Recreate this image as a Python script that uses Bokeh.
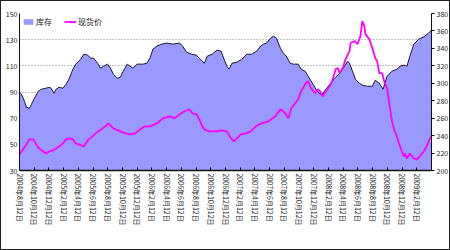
from bokeh.plotting import figure
from bokeh.models import Range1d, LinearAxis, FixedTicker, Legend, LegendItem
from bokeh.embed import file_html
from bokeh.resources import INLINE

FONT = "Noto Sans CJK SC"

tick_labels = ["2004年8月12日", "2004年10月12日", "2004年12月12日", "2005年2月12日",
               "2005年4月12日", "2005年6月12日", "2005年8月12日", "2005年10月12日",
               "2005年12月12日", "2006年2月12日", "2006年4月12日", "2006年6月12日",
               "2006年8月12日", "2006年10月12日", "2006年12月12日", "2007年2月12日",
               "2007年4月12日", "2007年6月12日", "2007年8月12日", "2007年10月12日",
               "2007年12月12日", "2008年2月12日", "2008年4月12日", "2008年6月12日",
               "2008年8月12日", "2008年10月12日", "2008年12月12日", "2009年2月12日"]

stock_x = [0.00, 0.13, 0.34, 0.47, 0.67, 0.81, 1.01, 1.28, 1.48, 1.81, 2.01, 2.15, 2.35, 2.48,
           2.69, 2.95, 3.16, 3.36, 3.63, 3.83, 4.16, 4.37, 4.63, 4.84, 5.04, 5.31, 5.51, 5.71,
           5.98, 6.18, 6.38, 6.65, 6.85, 7.05, 7.32, 7.52, 7.72, 7.99, 8.19, 8.40, 8.66, 8.87,
           9.07, 9.34, 9.67, 10.01, 10.41, 10.88, 11.08, 11.35, 11.69, 12.02, 12.36, 12.56,
           12.76, 13.10, 13.43, 13.70, 13.90, 14.10, 14.24, 14.44, 14.78, 15.11, 15.45, 15.78,
           16.12, 16.39, 16.59, 16.79, 17.06, 17.26, 17.46, 17.73, 17.93, 18.13, 18.40, 18.60,
           18.94, 19.14, 19.41, 19.74, 19.95, 20.15, 20.42, 20.62, 20.82, 21.09, 21.42, 21.76,
           22.10, 22.30, 22.43, 22.63, 22.83, 23.10, 23.30, 23.64, 23.98, 24.18, 24.45, 24.71,
           24.98, 25.32, 25.65, 25.86, 26.12, 26.33, 26.53, 26.80, 27.13, 27.47, 27.80, 28.00]
stock_v = [90.0, 88.3, 82.9, 78.3, 77.5, 80.6, 85.2, 90.6, 92.1, 92.9, 93.6, 92.9, 89.0, 92.1,
           93.6, 92.9, 95.9, 99.8, 107.4, 111.3, 115.1, 118.9, 118.2, 115.9, 115.9, 112.0, 108.2, 109.7,
           111.3, 108.2, 103.6, 100.5, 101.3, 105.9, 111.3, 109.7, 108.2, 111.3, 111.3, 111.3, 112.0, 116.0,
           122.8, 125.1, 126.6, 127.4, 126.6, 127.4, 125.1, 120.5, 118.9, 118.2, 114.3, 112.0,
           117.4, 118.9, 122.0, 121.2, 115.1, 109.7, 107.4, 112.0, 112.8, 115.1, 118.9, 118.9,
           121.2, 125.1, 126.6, 127.4, 131.2, 132.7, 131.2, 123.5, 119.7, 117.4, 112.0, 111.3,
           111.3, 107.4, 105.9, 99.8, 95.9, 92.1, 88.3, 89.0, 92.1, 95.9, 100.5, 104.4,
           109.7, 113.6, 112.0, 105.9, 99.8, 96.7, 95.2, 94.4, 94.4, 99.0, 96.7, 92.1,
           102.1, 105.9, 107.4, 109.7, 110.5, 109.7, 117.4, 126.6, 130.4, 132.0, 135.0, 137.3]

price_x = [0.00, 0.13, 0.47, 0.67, 0.94, 1.14, 1.34, 1.61, 1.81, 2.01, 2.28, 2.48, 2.69, 2.95,
           3.16, 3.36, 3.63, 3.83, 4.03, 4.37, 4.50, 4.70, 4.97, 5.17, 5.37, 5.64, 5.84, 6.04,
           6.38, 6.85, 7.19, 7.52, 7.86, 8.19, 8.53, 8.87, 9.34, 9.74, 10.21, 10.54, 10.88, 11.22,
           11.55, 11.75, 12.02, 12.22, 12.42, 12.56, 12.89, 13.36, 13.77, 14.10, 14.37, 14.57,
           14.78, 15.04, 15.38, 15.72, 16.05, 16.45, 16.92, 17.39, 17.73, 18.07, 18.27, 18.47,
           18.74, 18.94, 19.14, 19.41, 19.61, 19.81, 20.08, 20.28, 20.42, 20.62, 20.82, 21.09,
           21.29, 21.49, 21.63, 21.76, 21.96, 22.16, 22.43, 22.50, 22.77, 22.97, 23.17, 23.30,
           23.44, 23.51, 23.77, 23.98, 24.18, 24.31, 24.45, 24.65, 24.78, 24.98, 25.18, 25.32,
           25.45, 25.65, 25.79, 25.86, 25.99, 26.12, 26.19, 26.33, 26.53, 26.80, 27.00, 27.20,
           27.47, 27.67, 27.87, 28.00]
price_v = [218.4, 221.8, 229.9, 235.7, 235.7, 229.9, 225.3, 221.8, 219.5, 221.8, 223.0, 225.3, 227.6, 231.0,
           235.7, 236.8, 235.7, 231.0, 229.9, 227.6, 231.0, 235.7, 239.1, 242.6, 244.9, 248.3, 250.6, 254.1,
           248.3, 244.9, 242.6, 241.4, 242.6, 247.2, 250.6, 250.6, 254.1, 259.8, 262.1, 259.8, 264.4, 267.9,
           270.2, 265.6, 264.4, 258.7, 250.6, 247.2, 244.9, 244.9, 246.0, 244.9, 236.8, 233.4,
           236.8, 241.4, 242.6, 244.9, 250.6, 254.1, 256.4, 262.1, 270.2, 265.6, 259.8, 271.3,
           277.1, 281.7, 290.9, 298.9, 302.4, 294.3, 288.6, 293.2, 290.9, 285.1, 290.9, 296.6,
           304.7, 316.2, 317.3, 311.6, 317.3, 327.7, 336.9, 346.1, 348.4, 344.9, 354.1, 371.4,
           365.6, 356.4, 350.7, 340.3, 328.8, 325.4, 311.6, 311.6, 302.4, 294.3, 271.3, 256.4,
           247.2, 239.1, 231.0, 227.6, 221.8, 216.1, 219.5, 213.8, 219.5, 213.8, 212.6, 216.1,
           221.8, 227.6, 235.7, 239.1]

left_ticks = [30, 50, 70, 90, 110, 130, 150]
right_ticks = [200, 220, 240, 260, 280, 300, 320, 340, 360, 380]
series_names = ["库存", "现货价"]

p = figure(width=450, height=250, output_backend="svg", toolbar_location=None,
           x_range=Range1d(0, len(tick_labels)), y_range=Range1d(left_ticks[0], left_ticks[-1]),
           min_border_left=18, min_border_right=15, min_border_top=12, min_border_bottom=81)
p.extra_y_ranges = {"right": Range1d(right_ticks[0], right_ticks[-1])}
p.background_fill_color = "white"
p.border_fill_color = "white"
p.outline_line_color = None
p.styles = {"border": "1px solid #222"}

area = p.varea(x=stock_x, y1=left_ticks[0], y2=stock_v, fill_color="#9999FF", fill_alpha=1.0)
p.line(x=stock_x, y=stock_v, line_color="#1a1a33", line_width=1)
ln = p.line(x=price_x, y=price_v, line_color="#FF00FF", line_width=1.8, y_range_name="right")

# axes
xa = p.xaxis[0]
xa.ticker = FixedTicker(ticks=list(range(len(tick_labels))))
xa.major_label_overrides = {i: t for i, t in enumerate(tick_labels)}
xa.major_label_orientation = "vertical"
xa.major_label_text_font = FONT
xa.major_label_text_font_size = "7px"
xa.major_label_text_color = "#222"
xa.major_label_standoff = 3
xa.major_tick_in = 3
xa.major_tick_out = 0
xa.minor_tick_line_color = None
xa.axis_line_color = "#111"
xa.axis_line_width = 1.5

ya = p.yaxis[0]
ya.ticker = FixedTicker(ticks=left_ticks)
ya.major_label_text_font = FONT
ya.major_label_text_font_size = "7px"
ya.major_label_text_color = "#222"
ya.major_label_standoff = 2
ya.major_tick_in = 0
ya.major_tick_out = 0
ya.minor_tick_line_color = None
ya.axis_line_color = "#111"
ya.axis_line_width = 1

ra = LinearAxis(y_range_name="right", ticker=FixedTicker(ticks=right_ticks))
ra.major_label_text_font = FONT
ra.major_label_text_font_size = "7px"
ra.major_label_text_color = "#222"
ra.major_label_standoff = 2
ra.major_tick_in = 0
ra.major_tick_out = 3
ra.minor_tick_line_color = None
ra.axis_line_color = "#111"
ra.axis_line_width = 1
p.add_layout(ra, "right")

p.xgrid.grid_line_color = None
p.ygrid.ticker = FixedTicker(ticks=left_ticks)
p.ygrid.grid_line_color = "#888888"
p.ygrid.grid_line_dash = "1 2"
p.ygrid.grid_line_width = 1

legend = Legend(items=[LegendItem(label=series_names[0], renderers=[area]),
                       LegendItem(label=series_names[1], renderers=[ln])],
                location="top_left", orientation="horizontal")
legend.label_text_font = FONT
legend.label_text_font_size = "8px"
legend.label_text_color = "#222"
legend.glyph_width = 12
legend.glyph_height = 7
legend.label_height = 7
legend.label_standoff = 2
legend.spacing = 8
legend.padding = 2
legend.margin = 3
legend.border_line_color = None
legend.background_fill_alpha = 0
p.add_layout(legend)

open("out.html", "w").write(file_html(p, INLINE))
